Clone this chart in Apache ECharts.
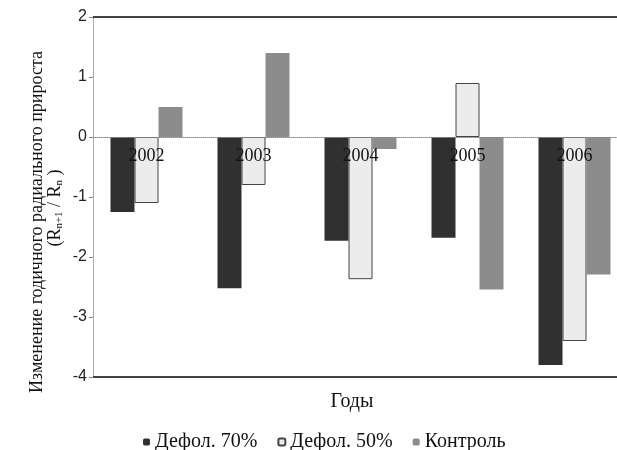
<!DOCTYPE html>
<html><head><meta charset="utf-8">
<script src="https://cdn.jsdelivr.net/npm/echarts@6/dist/echarts.min.js"></script>
<style>html,body{margin:0;padding:0;background:#fff}#c{width:617px;height:450px}</style>
</head><body><div id="c"></div>
<script>
const categories = ['2002', '2003', '2004', '2005', '2006'];
const defol70 = [-1.25, -2.52, -1.73, -1.68, -3.8];
const defol50 = [-1.1, -0.8, -2.37, 0.9, -3.4];
const control = [0.5, 1.4, -0.2, -2.54, -2.29];
const seriesNames = ['Дефол. 70%', 'Дефол. 50%', 'Контроль'];
const yTicks = [-4, -3, -2, -1, 0, 1, 2];
const borderValues = [2, -4];

const serif = '"Liberation Serif", "Times New Roman", serif';
const chart = echarts.init(document.getElementById('c'), null, {renderer: 'canvas'});
chart.setOption({
  animation: false,
  backgroundColor: '#fff',
  grid: {left: 93, top: 17, height: 360, width: 535, containLabel: false, outerBoundsMode: 'none'},
  legend: {
    left: 143, top: 432, padding: 0,
    itemWidth: 7, itemHeight: 7, itemGap: 20,
    textStyle: {fontFamily: serif, fontSize: 20, color: '#111'},
    data: seriesNames
  },
  xAxis: {
    type: 'category', data: categories, z: 10,
    axisLine: {onZero: true, lineStyle: {color: '#888', type: 'dotted', width: 1}},
    axisTick: {show: false},
    axisLabel: {fontFamily: serif, fontSize: 18, color: '#111', margin: -230}
  },
  yAxis: {
    type: 'value', min: yTicks[0], max: yTicks[yTicks.length - 1], interval: 1,
    axisLine: {show: true, lineStyle: {color: '#999', type: 'dotted', width: 1}},
    axisTick: {show: true, length: 4, lineStyle: {color: '#888'}},
    splitLine: {show: false},
    axisLabel: {fontFamily: '"Liberation Sans", Arial, sans-serif', fontSize: 16, color: '#222', margin: 6}
  },
  graphic: [
    {type: 'text', x: 37, y: 222, rotation: Math.PI / 2,
     style: {text: 'Изменение годичного радиального прироста', font: '18px ' + serif, fill: '#111', textAlign: 'center', textVerticalAlign: 'middle'}},
    {type: 'text', x: 55, y: 208, rotation: Math.PI / 2,
     style: {text: '{a|(R}{s|n+1}{a| / R}{s|n}{a| )}', fill: '#111', textAlign: 'center', textVerticalAlign: 'middle',
       rich: {a: {fontFamily: serif, fontSize: 18, lineHeight: 20, fill: '#111'},
              s: {fontFamily: serif, fontSize: 11, lineHeight: 20, verticalAlign: 'bottom', fill: '#111'}}}},
    {type: 'text', x: 352, y: 402,
     style: {text: 'Годы', font: '20px ' + serif, fill: '#111', textAlign: 'center', textVerticalAlign: 'middle'}}
  ],
  series: [
    {name: seriesNames[0], type: 'bar', data: defol70, barWidth: 24, barGap: '0%',
     itemStyle: {color: '#303030'},
     markLine: {silent: true, symbol: 'none', label: {show: false},
       lineStyle: {color: '#444', type: 'solid', width: 2},
       data: borderValues.map(v => ({yAxis: v}))}},
    {name: seriesNames[1], type: 'bar', data: defol50, barWidth: 24, barGap: '0%',
     itemStyle: {color: '#ececec', borderColor: '#444', borderWidth: 1}},
    {name: seriesNames[2], type: 'bar', data: control, barWidth: 24, barGap: '0%',
     itemStyle: {color: '#8c8c8c'}}
  ]
});
</script></body></html>
